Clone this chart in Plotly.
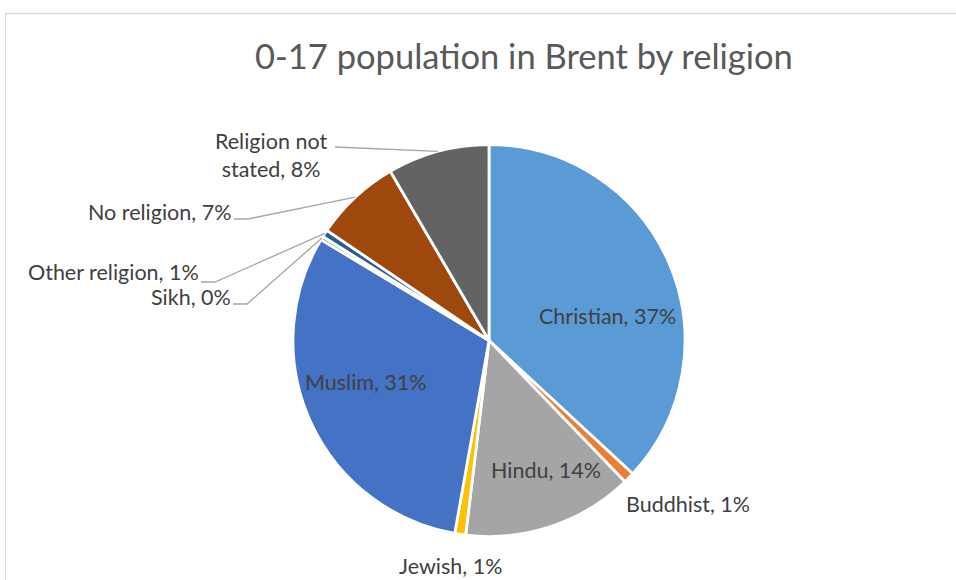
import math
import plotly.graph_objects as go

# ---- data ----
religions = ["Christian", "Buddhist", "Hindu", "Jewish", "Muslim", "Sikh",
             "Other religion", "No religion", "Religion not stated"]
shares = [36.9, 0.9, 14.1, 0.9, 30.8, 0.3, 0.6, 7.1, 8.4]
colors = ["#5B9BD5", "#ED7D31", "#A5A5A5", "#FFC000", "#4472C4", "#70AD47",
          "#255E91", "#9E480E", "#636363"]
title_text = "0-17 population in Brent by religion"

W, H = 956, 580
CX, CY, R = 489, 340.5, 196  # pie centre/radius in pixels
FONT = "Lato, Calibri, sans-serif"


def px(x, y):
    return x / W, 1 - y / H


fig = go.Figure()
fig.add_trace(go.Pie(
    labels=religions, values=shares, sort=False, direction="clockwise",
    rotation=0, textinfo="none", hoverinfo="label+percent",
    marker=dict(colors=colors, line=dict(color="white", width=2.8)),
    domain=dict(x=[(CX - R) / W, (CX + R) / W],
                y=[1 - (CY + R) / H, 1 - (CY - R) / H]),
    showlegend=False,
))

total = sum(shares)
pct = [round(v / total * 100) for v in shares]
label_txt = {r: f"{r}, {p}%" for r, p in zip(religions, pct)}
label_txt["Religion not stated"] = f"Religion not<br>stated, {pct[8]}%"

# label placement (pixels): x, y, xanchor
label_pos = {
    "Christian": (607, 316, "center"),
    "Buddhist": (688, 504, "center"),
    "Hindu": (546, 470, "center"),
    "Jewish": (450, 566, "center"),
    "Muslim": (366, 382, "center"),
    "Sikh": (233, 297, "right"),
    "Other religion": (201, 272, "right"),
    "No religion": (233, 212, "right"),
    "Religion not stated": (271, 155, "center"),
}

annotations = []
for r in religions:
    x, y, xa = label_pos[r]
    ax, ay = px(x, y)
    annotations.append(dict(
        x=ax, y=ay, xref="paper", yref="paper", text=label_txt[r],
        showarrow=False, xanchor=xa, yanchor="middle",
        font=dict(family=FONT, size=21.5, color="#404040"),
    ))

# leader lines: end points computed from slice mid-angles
cum = 0
mid_pt = {}
for r, v in zip(religions, shares):
    a = (cum + v / 2) / total * 2 * math.pi
    mid_pt[r] = (CX + R * math.sin(a), CY - R * math.cos(a))
    cum += v

leader_start = {
    "Religion not stated": [(335, 147)],
    "No religion": [(234, 219), (248, 219)],
    "Other religion": [(201, 282), (215, 282)],
    "Sikh": [(233, 304), (247, 304)],
}
shapes = []
for r, pts in leader_start.items():
    allpts = pts + [mid_pt[r]]
    path = ""
    for i, (x, y) in enumerate(allpts):
        qx, qy = px(x, y)
        path += ("M" if i == 0 else " L") + f" {qx:.5f} {qy:.5f}"
    shapes.append(dict(type="path", path=path, xref="paper", yref="paper",
                       line=dict(color="#A6A6A6", width=1.3)))

# chart border
bx0, by0 = px(5.5, 13.5)
bx1, by1 = px(970, 600)
shapes.append(dict(type="rect", xref="paper", yref="paper",
                   x0=bx0, y0=by1, x1=bx1, y1=by0,
                   line=dict(color="#D9D9D9", width=1.3)))

tx, ty = px(524, 56)
annotations.append(dict(
    x=tx, y=ty, xref="paper", yref="paper", text=title_text, showarrow=False,
    xanchor="center", yanchor="middle",
    font=dict(family=FONT, size=34.5, color="#595959"),
))

fig.update_layout(
    width=W, height=H, margin=dict(l=0, r=0, t=0, b=0),
    paper_bgcolor="white", plot_bgcolor="white",
    annotations=annotations, shapes=shapes,
)

fig.write_html("out.html", config={"displayModeBar": False},
               post_script="document.body.style.margin='0';"
                           "document.body.style.overflow='hidden';")
